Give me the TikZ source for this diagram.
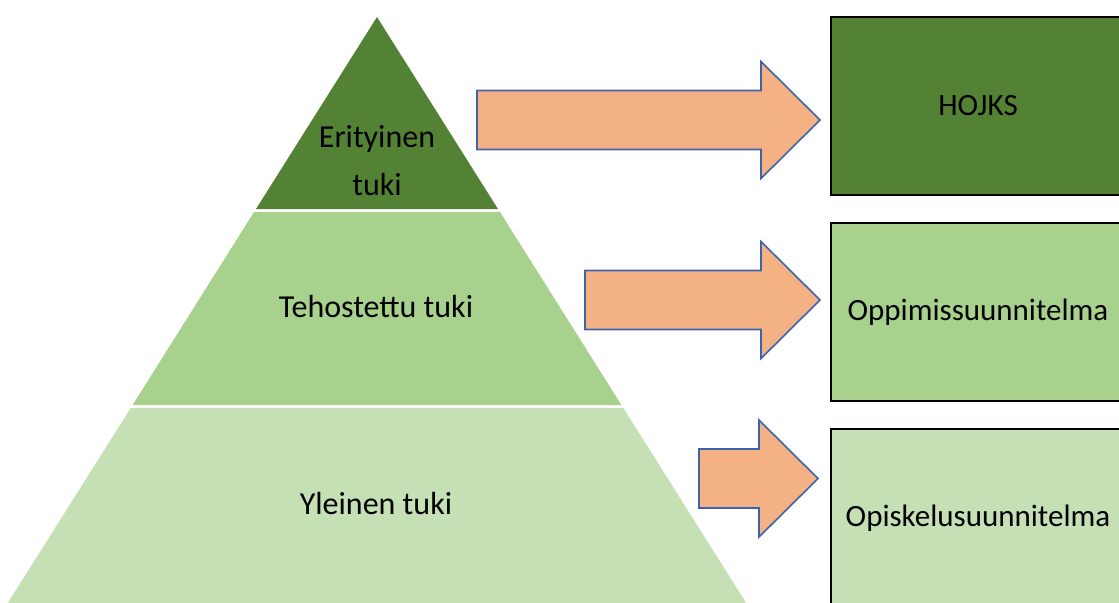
\documentclass[tikz,border=0pt]{standalone}
\usepackage{fontspec}
\setmainfont{Carlito}
\definecolor{tumma}{HTML}{548235}
\definecolor{keski}{HTML}{A9D18E}
\definecolor{vaalea}{HTML}{C5E0B4}
\definecolor{oranssi}{HTML}{F4B183}
\definecolor{sininen}{HTML}{3C64AE}
\begin{document}
\begin{tikzpicture}[x=0.5pt,y=-0.5pt,
    taso/.style={align=center,font=\fontsize{16}{24}\selectfont},
    laatikko/.style={draw=black,line width=1.3pt},
    suunnitelma/.style={font=\fontsize{15.5}{19}\selectfont},
    nuoli/.style={fill=oranssi,draw=sininen,line width=0.8pt,line join=miter}]
    \path[use as bounding box,clip] (0,0) rectangle (1119,602);
    % pyramidi
    \fill[tumma] (377,17)--(498,209)--(256,209)--cycle;
    \fill[keski] (254,212)--(500,212)--(621.4,405)--(132.6,405)--cycle;
    \fill[vaalea] (130.7,408)--(623.3,408)--(756.9,620)--(-2.9,620)--cycle;
    % laatikot jatkuvat kuvan oikean reunan yli
    \foreach \y/\v in {17/tumma,223/keski,429/vaalea}
    \draw[laatikko,fill=\v] (1130,\y)--(831,\y)--(831,\y+178)--(1130,\y+178);
    \path
    (377,161) node[taso] (erityinen) {Erityinen\\tuki}
    (376,306) node[taso] (tehostettu) {Tehostettu tuki}
    (376,503) node[taso] (yleinen) {Yleinen tuki}
    (978,106) node[suunnitelma] (hojks) {HOJKS}
    (978,312) node[suunnitelma] (oppimis) {Oppimissuunnitelma}
    (978,518) node[suunnitelma] (opiskelu) {Opiskelusuunnitelma}
    ;
    % nuolet
    \foreach \xs/\xh/\yc in {477/761/120,585/761/300,699/759/478.5}
    \draw[nuoli] (\xs,\yc-29.5)--(\xh,\yc-29.5)--(\xh,\yc-58.5)--(\xh+59,\yc)
        --(\xh,\yc+58.5)--(\xh,\yc+29.5)--(\xs,\yc+29.5)--cycle;
\end{tikzpicture}
\end{document}
